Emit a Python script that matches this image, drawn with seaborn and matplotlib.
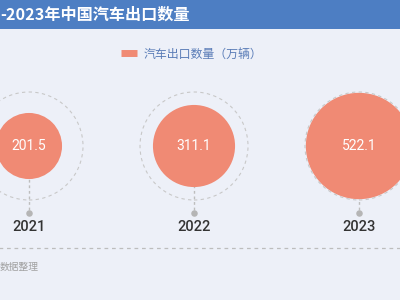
import matplotlib
matplotlib.use("Agg")
import matplotlib.pyplot as plt
import seaborn as sns
import pandas as pd
from matplotlib.lines import Line2D
from matplotlib.patches import Rectangle

years = ["2021", "2022", "2023"]
exports = [201.5, 311.1, 522.1]
title = "-2023年中国汽车出口数量"
legend_label = "汽车出口数量（万辆）"
source = "数据整理"

sns.set_theme(style="white")
plt.rcParams["font.family"] = ["Noto Sans CJK SC", "DejaVu Sans"]
NUMFONT = ["Roboto", "DejaVu Sans"]

BG = "#EDF0F8"
RED = "#F08A74"
BLUE = "#4D7EC3"
GREY = "#BDBDBD"

df = pd.DataFrame({"year": years, "value": exports})
df["pos"] = range(len(df))
df["ycen"] = 146.0

fig = plt.figure(figsize=(4, 3), dpi=100, facecolor=BG)
ax = fig.add_axes([0, 0, 1, 1])
ax.set_facecolor(BG)
ax.set_xlim(-29 / 165, 2 + 41 / 165)
ax.set_ylim(300, 0)
ax.axis("off")

max_r_px = 54
max_s = (2 * max_r_px * 0.72) ** 2

# vertical dashed connectors and dots
for p in df["pos"]:
    ax.plot([p, p], [146, 213], ls=(0, (2, 2)), color=GREY, lw=1, zorder=1)
ax.scatter(df["pos"], [213] * len(df), s=22, color="#B5B5B5", zorder=2, linewidths=0)

sns.scatterplot(data=df, x="pos", y="ycen", size="value", sizes=(0, max_s * 0.97),
                size_norm=(0, max(exports)), color=RED, edgecolor="none",
                legend=False, ax=ax, zorder=3)
ax.scatter(df["pos"], df["ycen"], s=max_s, facecolors="none", edgecolors="#C8C8C8",
           linestyles=(0, (3, 3)), linewidths=0.8, zorder=4)

for p, v, y in zip(df["pos"], df["value"], df["year"]):
    ax.text(p, 146, f"{v:.1f}", ha="center", va="center", color="white",
            fontsize=10, family=NUMFONT, zorder=5)
    ax.text(p, 227, y, ha="center", va="center", color="#333333",
            fontsize=10.5, family=NUMFONT, fontweight="medium", zorder=5)

ax.set_xlabel("")
ax.set_ylabel("")

# bottom dashed separator
ax.plot([-1, 3], [248, 248], ls=(0, (3, 3)), color=GREY, lw=0.9)

# title bar
fig.patches.append(Rectangle((0, 1 - 29 / 300), 1, 29 / 300, transform=fig.transFigure,
                             facecolor=BLUE, edgecolor="none", zorder=0))
fig.text(0, 1 - 15 / 300, title, ha="left", va="center", color="white",
         fontsize=11.6, fontweight="bold")

# legend
handle = Line2D([0], [0], color=RED, lw=5, solid_capstyle="butt")
leg = ax.legend([handle], [legend_label], loc="center", bbox_to_anchor=(0.48, 1 - 54 / 300),
                frameon=False, fontsize=8.6, handlelength=1.3, handletextpad=0.6)
for t in leg.get_texts():
    t.set_color("#5B7DB8")

fig.text(0, 1 - 267 / 300, source, ha="left", va="center", color="#A0A0A0", fontsize=7)

fig.savefig("out.png", dpi=100, facecolor=BG)
